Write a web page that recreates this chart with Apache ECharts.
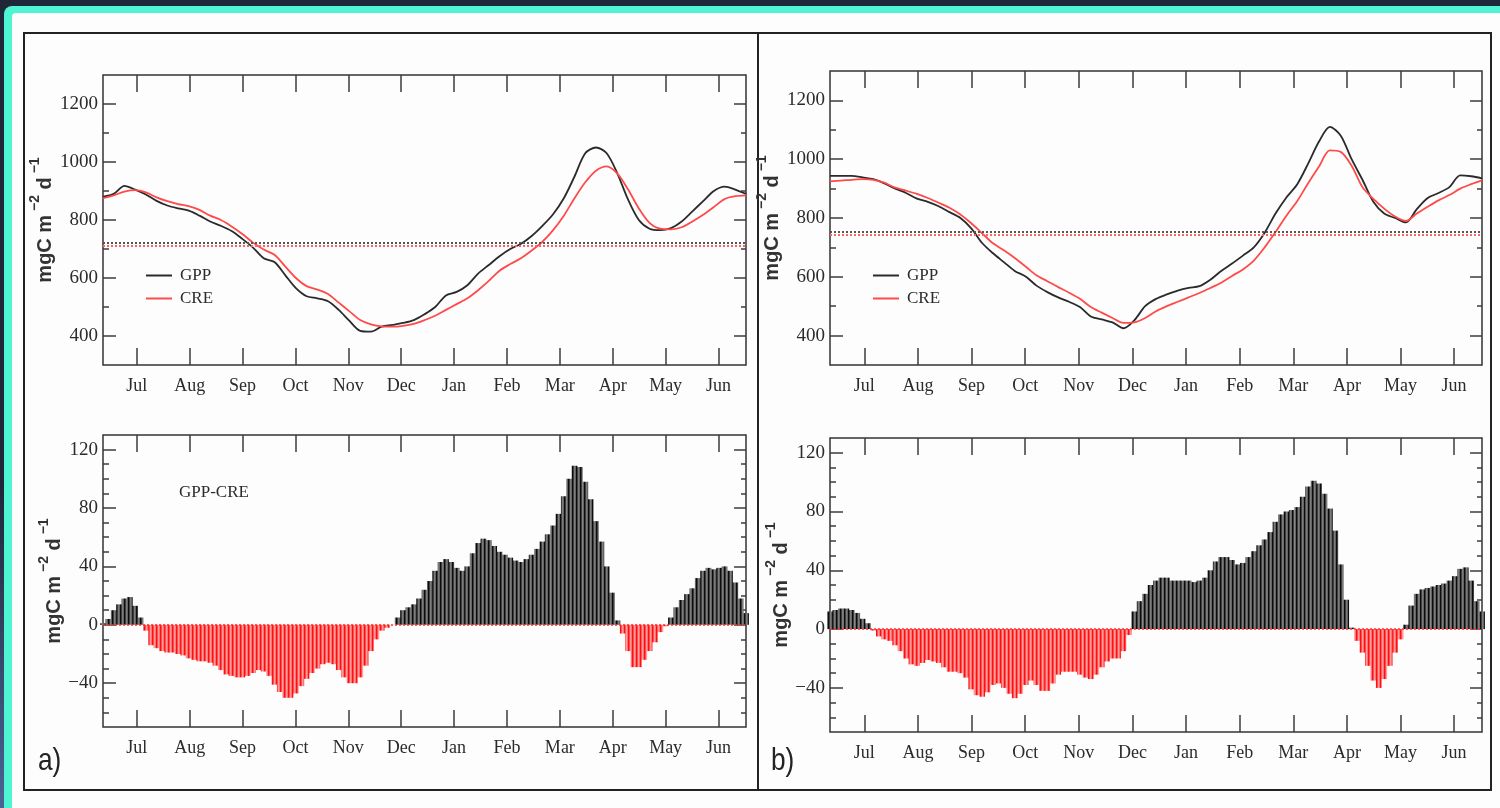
<!DOCTYPE html>
<html>
<head>
<meta charset="utf-8">
<script src="https://cdn.jsdelivr.net/npm/echarts@6/dist/echarts.min.js"></script>
<style>
    html, body { margin: 0; padding: 0; width: 1500px; height: 808px; overflow: hidden; }
    body { background: linear-gradient(#1e2638, #1e2638 60%, #4a6496); }
    #frame { position: absolute; left: 4px; top: 6px; width: 1496px; height: 802px; background: #4ff5d2; border-top-left-radius: 8px; }
    #paper { position: absolute; left: 12px; top: 13px; width: 1488px; height: 795px; background: #fdfdfd; border-top-left-radius: 4px; }
    #main { position: absolute; left: 0; top: 0; width: 1500px; height: 808px; }
</style>
</head>
<body>
<div id="frame"></div>
<div id="paper"></div>
<div id="main"></div>
<script>
    // month axis, Jul = 1 ... Jun = 12
    var monthNames = ['Jul', 'Aug', 'Sep', 'Oct', 'Nov', 'Dec', 'Jan', 'Feb', 'Mar', 'Apr', 'May', 'Jun'];
    var monthTicks = [1, 2, 3, 4, 5, 6, 7, 8, 9, 10, 11, 12];
    var xStart = 0.36, xEnd = 12.52;

    var fluxMajor = [400, 600, 800, 1000, 1200];
    var fluxMinor = [500, 700, 900, 1100];
    var diffMajor = [-40, 0, 40, 80, 120];
    var diffMinor = [-60, -50, -30, -20, -10, 10, 20, 30, 50, 60, 70, 90, 100, 110];

    // panel a
    var gppA = [880, 890, 918, 905, 888, 866, 850, 840, 832, 815,
        795, 780, 762, 735, 705, 668, 655, 610, 565, 537,
        530, 520, 490, 452, 418, 415, 432, 438, 445, 455,
        475, 500, 540, 552, 575, 615, 645, 675, 700, 718,
        745, 780, 820, 875, 950, 1030, 1050, 1030, 960, 870,
        800, 770, 765, 772, 795, 830, 865, 900, 915, 905,
        890];
    var creA = [875, 885, 898, 903, 895, 878, 865, 855, 848, 835,
        815, 800, 778, 752, 722, 698, 680, 640, 600, 572,
        560, 545, 515, 485, 455, 440, 433, 432, 435, 442,
        455, 470, 490, 510, 530, 558, 590, 625, 648, 668,
        695, 725, 765, 815, 875, 930, 970, 985, 960, 905,
        840, 790, 770, 768, 775, 795, 818, 845, 872, 882,
        885];
    var meanA = [722, 712];
    var diffA = [1, 4, 10, 14, 18, 19, 13, 5, -4, -14,
        -16, -18, -19, -19, -20, -21, -23, -24, -25, -25,
        -26, -28, -31, -34, -35, -36, -36, -35, -33, -31,
        -32, -35, -41, -46, -50, -50, -47, -42, -37, -33,
        -30, -27, -26, -27, -31, -36, -40, -40, -36, -28,
        -18, -10, -4, -2, 0, 5, 10, 12, 14, 18,
        24, 30, 37, 43, 45, 43, 39, 37, 40, 49,
        56, 59, 58, 54, 50, 48, 46, 44, 43, 45,
        48, 52, 57, 62, 68, 76, 88, 100, 109, 108,
        98, 86, 71, 57, 40, 22, 3, -6, -18, -29,
        -29, -24, -18, -12, -5, -1, 5, 12, 17, 21,
        25, 32, 37, 39, 38, 39, 40, 37, 29, 18,
        8];

    // panel b
    var gppB = [943, 943, 943, 938, 932, 918, 900, 885, 866, 855,
        840, 820, 800, 765, 715, 680, 650, 620, 601, 570,
        548, 530, 515, 497, 465, 455, 445, 425, 452, 500,
        525, 540, 553, 562, 568, 590, 620, 645, 672, 700,
        750, 815, 870, 915, 985, 1060, 1110, 1080, 1000, 930,
        855, 815, 800, 785, 830, 868, 885, 905, 945, 942,
        935];
    var creB = [925, 927, 930, 932, 930, 920, 903, 893, 882, 868,
        852, 835, 812, 782, 748, 714, 690, 664, 635, 605,
        585, 565, 546, 525, 497, 478, 460, 443, 445, 460,
        483, 500, 515, 530, 545, 562, 580, 603, 625, 655,
        700, 752, 808, 858, 918, 975, 1030, 1025, 978, 905,
        865, 832, 805, 790, 815, 838, 860, 878, 900, 915,
        928];
    var meanB = [752, 744];
    var diffB = [12, 13, 14, 14, 13, 11, 7, 4, -1, -5,
        -7, -8, -11, -15, -20, -24, -25, -23, -21, -22,
        -23, -26, -29, -29, -30, -33, -41, -45, -46, -43,
        -38, -37, -40, -44, -47, -44, -38, -35, -38, -42,
        -42, -37, -31, -29, -29, -29, -31, -33, -34, -31,
        -26, -22, -20, -20, -15, -4, 12, 19, 24, 30,
        33, 35, 35, 33, 33, 33, 33, 32, 33, 35,
        40, 46, 49, 49, 47, 44, 45, 49, 53, 57,
        61, 66, 73, 78, 80, 81, 83, 90, 97, 101,
        99, 92, 82, 67, 44, 20, 1, -8, -16, -25,
        -35, -40, -34, -25, -16, -7, 3, 16, 24, 27,
        28, 29, 30, 31, 33, 36, 41, 42, 33, 19,
        12];

    var serif = '"Liberation Serif", "Times New Roman", serif';
    var sans = '"Liberation Sans", Arial, sans-serif';
    var tickColor = '#3c3c3c';
    var textColor = '#2b2b2b';

    // samples are evenly spread over the plotted year
    function spread(values) {
        var step = (xEnd - xStart) / (values.length - 1);
        return values.map(function (v, i) { return [xStart + i * step, v]; });
    }

    function part(values, positive) {
        return spread(values).map(function (p) {
            return (p[1] >= 0) === positive ? p : [p[0], '-'];
        });
    }

    // vertical hatching used to fill the difference bars
    function hatch(cols) {
        var c = document.createElement('canvas');
        c.width = cols.length;
        c.height = 4;
        var ctx = c.getContext('2d');
        cols.forEach(function (col, i) {
            ctx.fillStyle = col;
            ctx.fillRect(i, 0, 1, 4);
        });
        return {image: c, repeat: 'repeat'};
    }
    var darkHatch = hatch(['#0c0c0c', '#3e3e3e', '#7c7c7c', '#646464']);
    var redHatch = hatch(['#ff1010', '#ff4c4c', '#ff9c9c', '#ff7272']);

    var grids = [
        {left: 103, top: 75, width: 643, height: 290},
        {left: 103, top: 435, width: 643, height: 292},
        {left: 830, top: 71, width: 652, height: 294},
        {left: 830, top: 438, width: 652, height: 294}
    ].map(function (g) {
        return Object.assign({show: true, borderColor: '#333', borderWidth: 1.5}, g);
    });

    function ticks(values, len) {
        return {show: true, inside: true, length: len, customValues: values, lineStyle: {color: tickColor, width: 1.5}};
    }

    function xAxes(g) {
        var base = {
            type: 'value', gridIndex: g, min: xStart, max: xEnd,
            splitLine: {show: false}, axisLine: {show: false, onZero: false}
        };
        return [
            Object.assign({}, base, {
                position: 'bottom',
                axisTick: ticks(monthTicks, 17),
                axisLabel: {
                    customValues: monthTicks, margin: 12,
                    formatter: function (v) { return monthNames[Math.round(v) - 1]; },
                    fontFamily: serif, fontSize: 18, color: textColor
                }
            }),
            Object.assign({}, base, {position: 'top', axisTick: ticks(monthTicks, 17), axisLabel: {show: false}})
        ];
    }

    var unitName = '{t|mgC m}{s| \u22122}{t| d}{s| \u22121}';
    var unitStyle = {
        rich: {
            t: {fontFamily: sans, fontSize: 20, fontWeight: 'bold', color: '#333', lineHeight: 27, verticalAlign: 'bottom'},
            s: {fontFamily: sans, fontSize: 14, fontWeight: 'bold', color: '#333', lineHeight: 27, verticalAlign: 'top'}
        }
    };

    function yAxes(g, min, max, major, minor, nameGap) {
        var base = {
            type: 'value', gridIndex: g, min: min, max: max,
            splitLine: {show: false}, axisLine: {show: false, onZero: false}
        };
        return [
            Object.assign({}, base, {
                position: 'left', axisTick: ticks(major, 13),
                axisLabel: {
                    customValues: major, margin: 5,
                    formatter: function (v) { return String(v).replace('-', '\u2212'); },
                    fontFamily: serif, fontSize: 19, color: textColor
                },
                name: unitName, nameLocation: 'middle', nameGap: nameGap, nameRotate: 90, nameTextStyle: unitStyle
            }),
            Object.assign({}, base, {position: 'left', axisTick: ticks(minor, 6), axisLabel: {show: false}}),
            Object.assign({}, base, {position: 'right', axisTick: ticks(major, 12), axisLabel: {show: false}}),
            Object.assign({}, base, {position: 'right', axisTick: ticks(minor, 5), axisLabel: {show: false}})
        ];
    }

    function fluxSeries(name, values, color, mean, meanColor, g) {
        return {
            type: 'line', name: name, xAxisIndex: 2 * g, yAxisIndex: 4 * g,
            data: spread(values), symbol: 'none', smooth: 0.3,
            lineStyle: {color: color, width: 1.8}, itemStyle: {color: color},
            markLine: {
                silent: true, symbol: 'none', label: {show: false},
                lineStyle: {color: meanColor, type: [2, 2], width: 2},
                data: [{yAxis: mean}]
            }
        };
    }

    function diffSeries(values, positive, g) {
        var s = {
            type: 'bar', name: 'GPP-CRE', xAxisIndex: 2 * g, yAxisIndex: 4 * g,
            data: part(values, positive), barWidth: 5.8, barGap: '-100%',
            itemStyle: {color: positive ? darkHatch : redHatch}
        };
        if (!positive) {
            s.markLine = {
                silent: true, symbol: 'none', label: {show: false},
                lineStyle: {color: '#ff3030', type: [2, 2], width: 1.5},
                data: [{yAxis: 0}]
            };
        }
        return s;
    }

    var legendBase = {
        orient: 'vertical', top: 262, itemWidth: 26, itemHeight: 2, itemGap: 6,
        icon: 'rect',
        data: ['GPP', 'CRE'],
        textStyle: {fontFamily: serif, fontSize: 17, color: textColor, lineHeight: 17, padding: [0, 0, 0, 3]}
    };

    var myChart = echarts.init(document.getElementById('main'));

    var option = {
        animation: false,
        grid: grids,
        xAxis: [].concat(xAxes(0), xAxes(1), xAxes(2), xAxes(3)),
        yAxis: [].concat(
            yAxes(0, 300, 1300, fluxMajor, fluxMinor, 48),
            yAxes(1, -70, 130, diffMajor, diffMinor, 38),
            yAxes(2, 300, 1300, fluxMajor, fluxMinor, 48),
            yAxes(3, -70, 130, diffMajor, diffMinor, 38)
        ),
        legend: [
            Object.assign({left: 141}, legendBase),
            Object.assign({left: 868}, legendBase)
        ],
        series: [
            fluxSeries('GPP', gppA, '#2a2a2a', meanA[0], '#555', 0),
            fluxSeries('CRE', creA, '#ff4a4a', meanA[1], '#ff6060', 0),
            diffSeries(diffA, true, 1),
            diffSeries(diffA, false, 1),
            fluxSeries('GPP', gppB, '#2a2a2a', meanB[0], '#555', 2),
            fluxSeries('CRE', creB, '#ff4a4a', meanB[1], '#ff6060', 2),
            diffSeries(diffB, true, 3),
            diffSeries(diffB, false, 3)
        ],
        graphic: [
            {type: 'rect', silent: true, shape: {x: 24, y: 33, width: 1467, height: 757},
                style: {fill: 'none', stroke: '#222', lineWidth: 2}},
            {type: 'line', silent: true, shape: {x1: 758, y1: 33, x2: 758, y2: 790},
                style: {stroke: '#222', lineWidth: 2}},
            {type: 'text', x: 38, y: 761, scaleX: 0.82,
                style: {text: 'a)', fontFamily: sans, fontSize: 32, fill: '#222', verticalAlign: 'middle'}},
            {type: 'text', x: 771, y: 761, scaleX: 0.82,
                style: {text: 'b)', fontFamily: sans, fontSize: 32, fill: '#222', verticalAlign: 'middle'}},
            {type: 'text', x: 179, y: 493,
                style: {text: 'GPP-CRE', fontFamily: serif, fontSize: 17, fill: textColor, verticalAlign: 'middle'}}
        ]
    };
    myChart.setOption(option);
</script>
</body>
</html>
